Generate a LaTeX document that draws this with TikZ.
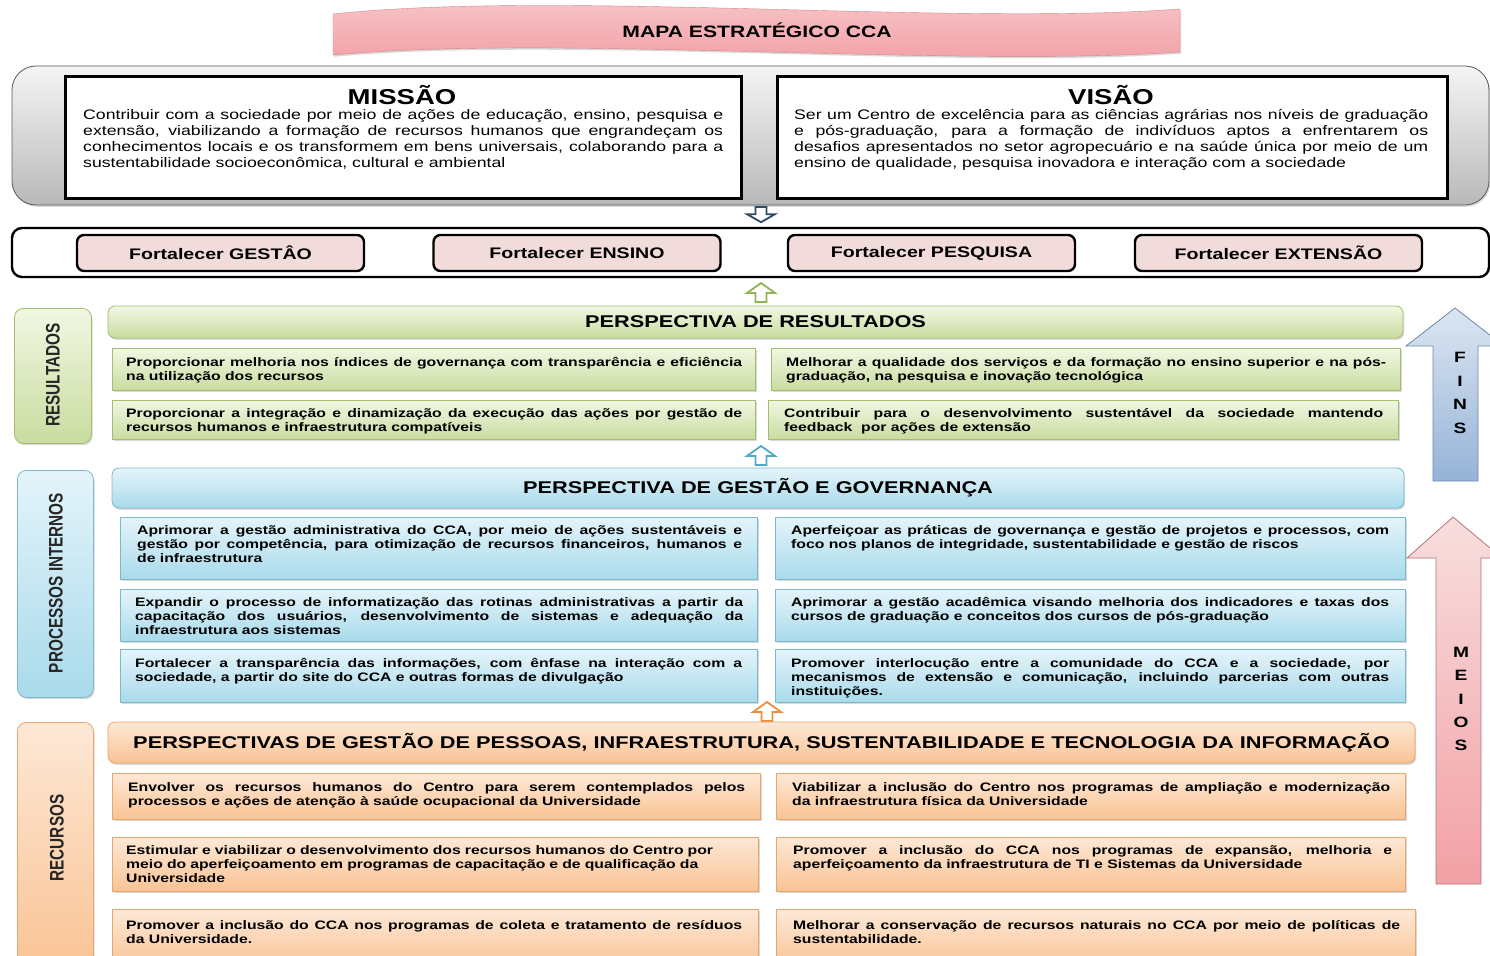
\documentclass[tikz,border=0pt]{standalone}
\usepackage{fontspec}
\setmainfont{Liberation Sans}[FakeStretch=1.28]
\newfontfamily\flatsans{Liberation Sans}
\usetikzlibrary{shadows}
\definecolor{grnln}{HTML}{A3BE6E}
\definecolor{grntop}{HTML}{F1F7E3}
\definecolor{grnbot}{HTML}{C9DC9F}
\definecolor{bluln}{HTML}{7CB9CF}
\definecolor{blutop}{HTML}{E4F4FA}
\definecolor{blubot}{HTML}{A9DAEB}
\definecolor{orgln}{HTML}{E8A56C}
\definecolor{orgtop}{HTML}{FDE8D6}
\definecolor{orgbot}{HTML}{F9C394}
\definecolor{fortfill}{HTML}{F2DCDB}
\definecolor{bantop}{HTML}{F8C9CC}
\definecolor{banmid}{HTML}{FCE3E3}
\definecolor{banbot}{HTML}{F29DA3}
\definecolor{banln}{HTML}{D4868B}
\definecolor{finstop}{HTML}{DCE6F2}
\definecolor{finsbot}{HTML}{95B3D7}
\definecolor{finsln}{HTML}{7088A8}
\definecolor{meiotop}{HTML}{F8DEDE}
\definecolor{meiobot}{HTML}{F2A0A5}
\definecolor{meioln}{HTML}{B07479}
\definecolor{navyarr}{HTML}{2E4A68}
\definecolor{grnarr}{HTML}{8DB650}
\definecolor{bluarr}{HTML}{4BAAC6}
\definecolor{orgarr}{HTML}{F08C3C}
\hyphenpenalty=10000
\tolerance=10000
\newcommand\objfont{\fontsize{12.3pt}{14pt}\selectfont\bfseries}
\newcommand\misfont{\fontsize{13.8pt}{15.7pt}\selectfont}
\newcommand\hdfont{\fontsize{17pt}{19pt}\selectfont\bfseries}
\begin{document}
\begin{tikzpicture}[x=1pt, y=-1pt,
  shd/.style={drop shadow={shadow xshift=1.2pt, shadow yshift=-1.8pt, opacity=.3}},
  box/.style={anchor=north west, inner sep=0pt, line width=.7pt, shd},
  resbox/.style={box, draw=grnln, top color=grntop, bottom color=grnbot},
  procbox/.style={box, draw=bluln, top color=blutop, bottom color=blubot},
  recbox/.style={box, draw=orgln, top color=orgtop, bottom color=orgbot},
  objtxt/.style={anchor=base west, inner sep=0pt, align=justify, font=\objfont},
  hdbox/.style={rounded corners=7pt, line width=.8pt, inner sep=0pt, font=\hdfont, shd},
  sidebox/.style={anchor=north west, rounded corners=9pt, line width=.8pt, inner sep=0pt, shd},
  sidetxt/.style={rotate=90, yscale=1.28, inner sep=0pt, text=black!85, font=\flatsans\fontsize{15.3pt}{17pt}\selectfont\bfseries},
  fort/.style={draw, line width=2.4pt, fill=fortfill, rounded corners=7pt, minimum width=287pt, minimum height=36pt, font=\fontsize{15.3pt}{17pt}\selectfont\bfseries},
  mvbox/.style={draw, line width=2.6pt, fill=white, anchor=north west, minimum height=122pt},
  letters/.style={align=center, font=\fontsize{15pt}{23.4pt}\selectfont\bfseries},
  pics/blockup/.style={code={\draw[#1, line width=1.8pt, fill=white] (-5.5,0) -- (-5.5,-9) -- (-14,-9) -- (0,-19) -- (14,-9) -- (5.5,-9) -- (5.5,0) -- cycle;}},
]
\useasboundingbox (0,0) rectangle (1490,955);
\clip (0,0) rectangle (1490,955);

% title banner
\draw[draw=banln, top color=bantop, middle color=banmid, bottom color=banbot, shd] (333,14) .. controls (560,-10) and (950,26) .. (1180,9) -- (1180,52) .. controls (950,68) and (560,34) .. (333,55) -- cycle;
\node[font=\fontsize{16.5pt}{18pt}\selectfont\bfseries] (title) at (757,30) {MAPA ESTRATÉGICO CCA};

% missao / visao
\node[draw=gray!70!black, line width=.8pt, top color=gray!8, bottom color=gray!55, rounded corners=24pt, minimum width=1477pt, minimum height=139pt, shd] (panel) at (750.5,135.5) {};
\node[mvbox, minimum width=676pt] (mis) at (64,75) {};
\node[mvbox, minimum width=670pt] (vis) at (776,75) {};
\node[font=\fontsize{21.5pt}{24pt}\selectfont\bfseries] (mish) at (402,95) {MISSÃO};
\node[font=\fontsize{21.5pt}{24pt}\selectfont\bfseries] (vish) at (1111,95) {VISÃO};
\node[objtxt, font=\misfont, text width=640pt] (mist) at (83,120) {Contribuir com a sociedade por meio de ações de educação, ensino, pesquisa e\linebreak extensão, viabilizando a formação de recursos humanos que engrandeçam os\linebreak conhecimentos locais e os transformem em bens universais, colaborando para a\linebreak sustentabilidade socioeconômica, cultural e ambiental};
\node[objtxt, font=\misfont, text width=634pt] (vist) at (794,120) {Ser um Centro de excelência para as ciências agrárias nos níveis de graduação\linebreak e pós-graduação, para a formação de indivíduos aptos a enfrentarem os\linebreak desafios apresentados no setor agropecuário e na saúde única por meio de um\linebreak ensino de qualidade, pesquisa inovadora e interação com a sociedade};
\pic[rotate=180, yscale=.8] at (761,207) {blockup=navyarr};

% fortalecer
\node[draw, line width=2.4pt, rounded corners=10pt, fill=white, minimum width=1477pt, minimum height=49pt] (strip) at (750.5,252.5) {};
\node[fort] (f1) at (220.5,253) {Fortalecer GESTÂO};
\node[fort] (f2) at (577,253) {Fortalecer ENSINO};
\node[fort] (f3) at (931.5,253) {Fortalecer PESQUISA};
\node[fort] (f4) at (1278.5,253) {Fortalecer EXTENSÃO};
\pic at (761,302) {blockup=grnarr};

% resultados
\node[sidebox, draw=grnln, top color=grntop, bottom color=grnbot, minimum width=77pt, minimum height=135pt] (sres) at (14,308) {};
\node[sidetxt] (sreslbl) at (53,375) {RESULTADOS};
\node[hdbox, draw=grnln, top color=grntop, bottom color=grnbot, minimum width=1295pt, minimum height=32pt] (hres) at (755.5,322) {PERSPECTIVA DE RESULTADOS};
\node[resbox, minimum width=643pt, minimum height=42pt] (r1) at (112,348) {};
\node[resbox, minimum width=629pt, minimum height=42pt] (r2) at (771,348) {};
\node[resbox, minimum width=643pt, minimum height=39pt] (r3) at (112,400) {};
\node[resbox, minimum width=630pt, minimum height=39pt] (r4) at (768,400) {};
\node[objtxt, text width=616pt] (r1t) at (126,366) {Proporcionar melhoria nos índices de governança com transparência e eficiência\linebreak na utilização dos recursos};
\node[objtxt, text width=600pt] (r2t) at (786,366) {Melhorar a qualidade dos serviços e da formação no ensino superior e na pós-\linebreak graduação, na pesquisa e inovação tecnológica};
\node[objtxt, text width=616pt] (r3t) at (126,417) {Proporcionar a integração e dinamização da execução das ações por gestão de\linebreak recursos humanos e infraestrutura compatíveis};
\node[objtxt, text width=599pt] (r4t) at (784,417) {Contribuir para o desenvolvimento sustentável da sociedade mantendo\linebreak feedback\ \ por ações de extensão};
\pic at (761,465) {blockup=bluarr};

% processos internos
\node[sidebox, draw=bluln, top color=blutop, bottom color=blubot, minimum width=76pt, minimum height=227pt] (sproc) at (17,470) {};
\node[sidetxt] (sproclbl) at (56,583) {PROCESSOS INTERNOS};
\node[hdbox, draw=bluln, top color=blutop, bottom color=blubot, minimum width=1292pt, minimum height=40pt] (hproc) at (758,488) {PERSPECTIVA DE GESTÃO E GOVERNANÇA};
\node[procbox, minimum width=637pt, minimum height=62pt] (p1) at (120,517) {};
\node[procbox, minimum width=630pt, minimum height=62pt] (p2) at (775,517) {};
\node[procbox, minimum width=637pt, minimum height=52pt] (p3) at (120,589) {};
\node[procbox, minimum width=630pt, minimum height=52pt] (p4) at (775,589) {};
\node[procbox, minimum width=637pt, minimum height=53pt] (p5) at (120,649) {};
\node[procbox, minimum width=630pt, minimum height=53pt] (p6) at (775,649) {};
\node[objtxt, text width=605pt] (p1t) at (137,534) {Aprimorar a gestão administrativa do CCA, por meio de ações sustentáveis e\linebreak gestão por competência, para otimização de recursos financeiros, humanos e\linebreak de infraestrutura};
\node[objtxt, text width=598pt] (p2t) at (791,534) {Aperfeiçoar as práticas de governança e gestão de projetos e processos, com\linebreak foco nos planos de integridade, sustentabilidade e gestão de riscos};
\node[objtxt, text width=608pt] (p3t) at (135,606) {Expandir o processo de informatização das rotinas administrativas a partir da\linebreak capacitação dos usuários, desenvolvimento de sistemas e adequação da\linebreak infraestrutura aos sistemas};
\node[objtxt, text width=598pt] (p4t) at (791,606) {Aprimorar a gestão acadêmica visando melhoria dos indicadores e taxas dos\linebreak cursos de graduação e conceitos dos cursos de pós-graduação};
\node[objtxt, text width=607pt] (p5t) at (135,667) {Fortalecer a transparência das informações, com ênfase na interação com a\linebreak sociedade, a partir do site do CCA e outras formas de divulgação};
\node[objtxt, text width=598pt] (p6t) at (791,667) {Promover interlocução entre a comunidade do CCA e a sociedade, por\linebreak mecanismos de extensão e comunicação, incluindo parcerias com outras\linebreak instituições.};
\pic at (767,721) {blockup=orgarr};

% recursos
\node[sidebox, draw=orgln, top color=orgtop, bottom color=orgbot, minimum width=76pt, minimum height=250pt] (srec) at (17,722) {};
\node[sidetxt] (sreclbl) at (57,838) {RECURSOS};
\node[hdbox, draw=orgln, top color=orgtop, bottom color=orgbot, minimum width=1307pt, minimum height=41pt] (hrec) at (761.5,742.5) {PERSPECTIVAS DE GESTÃO DE PESSOAS, INFRAESTRUTURA, SUSTENTABILIDADE E TECNOLOGIA DA INFORMAÇÃO};
\node[recbox, minimum width=648pt, minimum height=46pt] (g1) at (112,773) {};
\node[recbox, minimum width=629pt, minimum height=46pt] (g2) at (776,773) {};
\node[recbox, minimum width=646pt, minimum height=54pt] (g3) at (112,837) {};
\node[recbox, minimum width=629pt, minimum height=54pt] (g4) at (776,837) {};
\node[recbox, minimum width=646pt, minimum height=60pt] (g5) at (112,909) {};
\node[recbox, minimum width=639pt, minimum height=60pt] (g6) at (776,909) {};
\node[objtxt, text width=617pt] (g1t) at (128,791) {Envolver os recursos humanos do Centro para serem contemplados pelos\linebreak processos e ações de atenção à saúde ocupacional da Universidade};
\node[objtxt, text width=598pt] (g2t) at (792,791) {Viabilizar a inclusão do Centro nos programas de ampliação e modernização\linebreak da infraestrutura física da Universidade};
\node[objtxt, align=left, text width=620pt] (g3t) at (126,854) {Estimular e viabilizar o desenvolvimento dos recursos humanos do Centro por\\ meio do aperfeiçoamento em programas de capacitação e de qualificação da\\ Universidade};
\node[objtxt, text width=599pt] (g4t) at (793,854) {Promover a inclusão do CCA nos programas de expansão, melhoria e\linebreak aperfeiçoamento da infraestrutura de TI e Sistemas da Universidade};
\node[objtxt, text width=616pt] (g5t) at (126,929) {Promover a inclusão do CCA nos programas de coleta e tratamento de resíduos\linebreak da Universidade.};
\node[objtxt, text width=607pt] (g6t) at (793,929) {Melhorar a conservação de recursos naturais no CCA por meio de políticas de\linebreak sustentabilidade.};

% fins / meios
\draw[draw=finsln, top color=finstop, bottom color=finsbot, line width=.8pt] (1455,308) -- (1504,346) -- (1478,346) -- (1478,481) -- (1433,481) -- (1433,346) -- (1406,346) -- cycle;
\node[letters] (fins) at (1460,393) {F\\I\\N\\S};
\draw[draw=meioln, top color=meiotop, bottom color=meiobot, line width=.8pt] (1453,517) -- (1502,558) -- (1481,558) -- (1481,884) -- (1436,884) -- (1436,558) -- (1407,558) -- cycle;
\node[letters] (meios) at (1461,699) {M\\E\\I\\O\\S};
\end{tikzpicture}
\end{document}
